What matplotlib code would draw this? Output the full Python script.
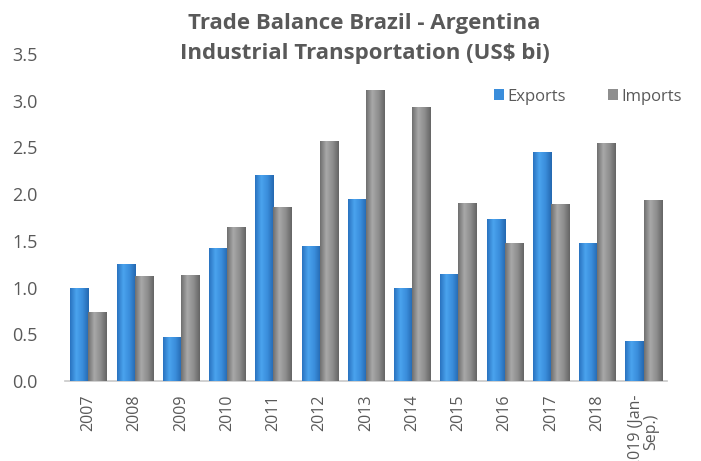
import numpy as np
import matplotlib
matplotlib.use("Agg")
import matplotlib.pyplot as plt
from matplotlib.colors import LinearSegmentedColormap

categories = ["2007", "2008", "2009", "2010", "2011", "2012", "2013", "2014",
              "2015", "2016", "2017", "2018", "2019 (Jan-\nSep.)"]
exports = [0.99, 1.25, 0.47, 1.42, 2.20, 1.45, 1.95, 0.99, 1.15, 1.73, 2.45, 1.48, 0.43]
imports = [0.74, 1.12, 1.13, 1.65, 1.86, 2.57, 3.11, 2.93, 1.91, 1.48, 1.89, 2.55, 1.94]
yticks = [0.0, 0.5, 1.0, 1.5, 2.0, 2.5, 3.0, 3.5]

plt.rcParams['font.family'] = ['Open Sans', 'DejaVu Sans']
fig = plt.figure(figsize=(7.01, 4.61), dpi=100)
ax = fig.add_axes([0.093, 0.1735, 0.858, 0.7095])

x = np.arange(len(categories))
w = 0.39
blue_cmap = LinearSegmentedColormap.from_list("b", ["#2a73c0", "#4aa3ee", "#3a8ddb", "#2468b0"])
gray_cmap = LinearSegmentedColormap.from_list("g", ["#6f6f6f", "#a8a8a8", "#8e8e8e", "#656565"])

def draw(vals, offset, color, cmap, label):
    bars = ax.bar(x + offset, vals, w, color=color, label=label, zorder=2)
    grad = np.linspace(0, 1, 64).reshape(1, -1)
    for b in bars:
        x0, y0 = b.get_x(), b.get_y()
        im = ax.imshow(grad, cmap=cmap, aspect="auto", zorder=3,
                       extent=[x0, x0 + b.get_width(), y0, y0 + b.get_height()])
        im.set_clip_path(b)
    return bars

draw(exports, -w / 2, "#3a8ddb", blue_cmap, "Exports")
draw(imports, w / 2, "#8e8e8e", gray_cmap, "Imports")

ax.set_xlim(-0.5, len(categories) - 0.5)
ax.set_ylim(0, 3.5)
ax.set_yticks(yticks)
ax.set_yticklabels([f"{t:.1f}" for t in yticks], fontsize=13, color="#595959")
ax.set_xticks(x)
ax.set_xticklabels(categories, rotation=90, fontsize=11.5, color="#595959",
                   linespacing=0.95)
ax.tick_params(axis="both", length=0)
ax.tick_params(axis="y", pad=20)
ax.tick_params(axis="x", pad=10)
for s in ["top", "right", "left"]:
    ax.spines[s].set_visible(False)
ax.spines["bottom"].set_color("#c8c8c8")
ax.spines["bottom"].set_linewidth(1.2)

fig.text(0.52, 0.95, "Trade Balance Brazil - Argentina", ha="center", va="center",
         fontsize=16, fontweight="bold", color="#595959")
fig.text(0.52, 0.885, "Industrial Transportation (US$ bi)", ha="center", va="center",
         fontsize=16, fontweight="bold", color="#595959")

leg = ax.legend(loc="upper right", bbox_to_anchor=(1.05, 0.94), ncol=2, frameon=False,
                fontsize=12, handlelength=0.6, handleheight=0.6, handletextpad=0.2,
                columnspacing=2.5, labelcolor="#595959")
leg.set_zorder(5)

fig.savefig("out.png", dpi=100)
